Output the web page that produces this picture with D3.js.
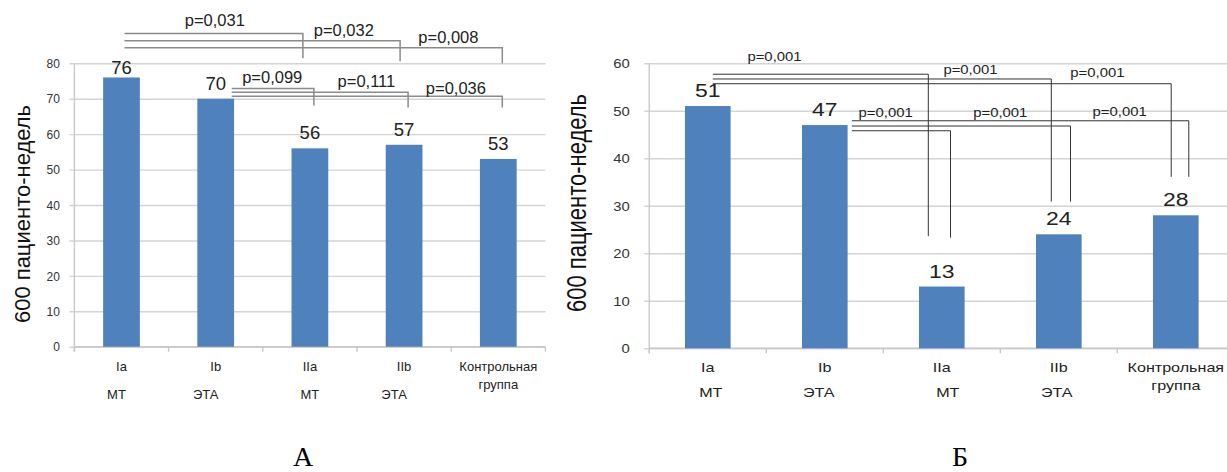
<!DOCTYPE html>
<html>
<head>
<meta charset="utf-8">
<script src="https://cdn.jsdelivr.net/npm/d3@7"></script>
<style>
  body { margin: 0; background: #fff; }
  text { font-family: "Liberation Sans", Arial, sans-serif; }
</style>
</head>
<body>
<div id="chart"></div>
<script>
// ---- data ----
const categories = ["Ia", "Ib", "IIa", "IIb", "Контрольная"];
const subLabels = ["МТ", "ЭТА", "МТ", "ЭТА", "группа"];
const valuesA = [76, 70, 56, 57, 53];
const valuesB = [51, 47, 13, 24, 28];
const ticksA = [0, 10, 20, 30, 40, 50, 60, 70, 80];
const ticksB = [0, 10, 20, 30, 40, 50, 60];
const yTitle = "600 пациенто-недель";
// comparisons: [from, to, p]
const pairsA = [
  ["Ia", "IIa", "p=0,031"], ["Ia", "IIb", "p=0,032"], ["Ia", "Контрольная", "p=0,008"],
  ["Ib", "IIa", "p=0,099"], ["Ib", "IIb", "p=0,111"], ["Ib", "Контрольная", "p=0,036"]
];
const pairsB = [
  ["Ia", "IIa", "p=0,001"], ["Ia", "IIb", "p=0,001"], ["Ia", "Контрольная", "p=0,001"],
  ["Ib", "Контрольная", "p=0,001"], ["Ib", "IIb", "p=0,001"], ["Ib", "IIa", "p=0,001"]
];

// ---- layout of the brackets (value units for y, px offsets / fractional index for x) ----
const bracketLayoutA = [
  {level: 88.4, drop: 81.4, da: 3, db: -7, lx: 0.99, ly: 92.3},
  {level: 86.4, drop: 80.6, da: 3, db: -4, lx: 2.36, ly: 89.3},
  {level: 84.4, drop: 80.0, da: 3, db: 4, lx: 3.47, ly: 87.3},
  {level: 72.9, drop: 68.1, da: 16, db: 4, lx: 1.60, ly: 76.0},
  {level: 71.8, drop: 67.5, da: 16, db: 4, lx: 2.60, ly: 75.1},
  {level: 70.7, drop: 67.5, da: 16, db: 4, lx: 3.55, ly: 73.0}
];
const bracketLayoutB = [
  {level: 57.7, drop: 23.6, da: 5, db: -13.5, lx: 0.57, ly: 61.4},
  {level: 56.7, drop: 30.9, da: 5, db: -7.5, lx: 2.245, ly: 58.6},
  {level: 55.7, drop: 36.1, da: 5, db: -4.6, lx: 3.33, ly: 58.0},
  {level: 47.9, drop: 36.1, da: 27, db: 13, lx: 3.52, ly: 49.8},
  {level: 46.8, drop: 30.9, da: 27, db: 11.7, lx: 2.5, ly: 49.5},
  {level: 45.8, drop: 23.3, da: 27, db: 8.7, lx: 1.52, ly: 49.6}
];

const W = 1227, H = 472;
const svg = d3.select("#chart").append("svg")
    .attr("width", W)
    .attr("height", H)
    .style("display", "block");

function drawPanel(cfg) {
  const g = svg.append("g");
  const n = categories.length;
  const right = cfg.left + cfg.step * n;

  const x = d3.scaleBand().domain(categories).range([cfg.left, right]).padding(0);
  const y = d3.scaleLinear().domain([0, d3.max(cfg.ticks)]).range([cfg.bottom, cfg.top]);
  const cx = c => x(c) + x.bandwidth() / 2;
  const xi = d3.scaleLinear().domain([0, n - 1]).range([cx(categories[0]), cx(categories[n - 1])]);
  const sx = cfg.sx;

  // gridlines + y tick labels
  const yAxis = g.append("g")
      .attr("transform", `translate(${cfg.left - 5},0)`)
      .call(d3.axisLeft(y).tickValues(cfg.ticks).tickSize(-(right - cfg.left + 5)).tickPadding(cfg.tickPad));
  yAxis.select(".domain").remove();
  yAxis.selectAll(".tick line").attr("stroke", "#d4d4d4").attr("stroke-width", 1.4);
  yAxis.selectAll(".tick text")
      .attr("font-family", "Liberation Sans, Arial, sans-serif")
      .attr("font-size", 12)
      .attr("fill", "#333")
      .attr("dy", "0.35em")
      .attr("x", null)
      .attr("transform", `translate(${-cfg.tickPad},0) scale(${sx},1)`);

  // axis lines
  g.append("line")
      .attr("x1", cfg.left).attr("x2", cfg.left)
      .attr("y1", y(d3.max(cfg.ticks))).attr("y2", cfg.bottom + 5)
      .attr("stroke", "#c8c8c8").attr("stroke-width", 1.4);
  g.append("line")
      .attr("x1", cfg.left).attr("x2", right)
      .attr("y1", cfg.bottom).attr("y2", cfg.bottom)
      .attr("stroke", "#c8c8c8").attr("stroke-width", 1.4);
  g.selectAll(".xtick")
      .data(categories.map(c => x(c)).concat([right]))
      .enter().append("line")
      .attr("x1", d => d).attr("x2", d => d)
      .attr("y1", cfg.bottom).attr("y2", cfg.bottom + 5)
      .attr("stroke", "#c8c8c8").attr("stroke-width", 1.4);

  // bars
  const bw = cfg.step * 0.39;
  g.selectAll(".bar")
      .data(cfg.values)
      .enter().append("rect")
      .attr("x", (d, i) => cx(categories[i]) - bw / 2)
      .attr("y", d => y(d))
      .attr("width", bw)
      .attr("height", d => cfg.bottom - y(d))
      .attr("fill", "#4f81bd");

  // value labels (kept inside the plot area like Excel does)
  const topLimit = y(d3.max(cfg.ticks)) + 11;
  g.selectAll(".val")
      .data(cfg.values)
      .enter().append("text")
      .attr("transform", (d, i) => `translate(${cx(categories[i])},${Math.max(y(d) - 9, topLimit)}) scale(${sx},1)`)
      .attr("text-anchor", "middle")
      .attr("font-size", 18.5)
      .attr("fill", "#222")
      .text(d => d);

  // category labels
  g.selectAll(".cat")
      .data(categories)
      .enter().append("text")
      .attr("transform", d => `translate(${cx(d)},${cfg.catY}) scale(${sx},1)`)
      .attr("text-anchor", "middle")
      .attr("font-size", 13)
      .attr("fill", "#222")
      .text(d => d);
  g.selectAll(".sub")
      .data(subLabels)
      .enter().append("text")
      .attr("transform", (d, i) => {
        const yy = i === n - 1 ? cfg.catY + 18 : cfg.subY;
        return `translate(${cx(categories[i]) + cfg.subDx[i]},${yy}) scale(${sx},1)`;
      })
      .attr("text-anchor", "middle")
      .attr("font-size", 13)
      .attr("fill", "#222")
      .text(d => d);

  // y axis title
  g.append("text")
      .attr("transform", `translate(${cfg.titleX},${cfg.titleY}) scale(${sx},1) rotate(-90)`)
      .attr("text-anchor", "middle")
      .attr("font-size", 22)
      .attr("fill", "#111")
      .text(yTitle);

  // significance brackets
  cfg.pairs.forEach((p, i) => {
    const L = cfg.brackets[i];
    const x1 = cx(p[0]) + L.da, x2 = cx(p[1]) + L.db;
    g.append("path")
        .attr("d", `M${x1},${y(L.level)}H${x2}V${y(L.drop)}`)
        .attr("fill", "none")
        .attr("stroke", cfg.bracketColor)
        .attr("stroke-width", cfg.bracketWidth);
    g.append("text")
        .attr("transform", `translate(${xi(L.lx)},${y(L.ly) + cfg.pSize * 0.36}) scale(${sx},1)`)
        .attr("text-anchor", "middle")
        .attr("font-size", cfg.pSize)
        .attr("fill", "#222")
        .text(p[2]);
  });

  // panel letter
  g.append("text")
      .attr("x", cfg.letterX).attr("y", 466)
      .attr("text-anchor", "middle")
      .style("font-family", "'Liberation Serif', 'Times New Roman', serif")
      .attr("font-size", 28)
      .attr("fill", "#000")
      .text(cfg.letter);
}

drawPanel({
  values: valuesA, ticks: ticksA, pairs: pairsA, brackets: bracketLayoutA,
  left: 74.4, step: 94.2, top: 63.3, bottom: 346.7, sx: 1, tickPad: 9.5,
  catY: 371, subY: 399, subDx: [-5, -10, 0, -10, 0],
  titleX: 30, titleY: 214, pSize: 16.5, bracketColor: "#8a8a8a", bracketWidth: 1.5,
  letter: "А", letterX: 303
});

drawPanel({
  values: valuesB, ticks: ticksB, pairs: pairsB, brackets: bracketLayoutB,
  left: 649.3, step: 117, top: 63.3, bottom: 348.3, sx: 1.24, tickPad: 14.5,
  catY: 372, subY: 397, subDx: [3, -6, 6, -2, 0],
  titleX: 586, titleY: 203, pSize: 12, bracketColor: "#333", bracketWidth: 1,
  letter: "Б", letterX: 960
});
</script>
</body>
</html>
